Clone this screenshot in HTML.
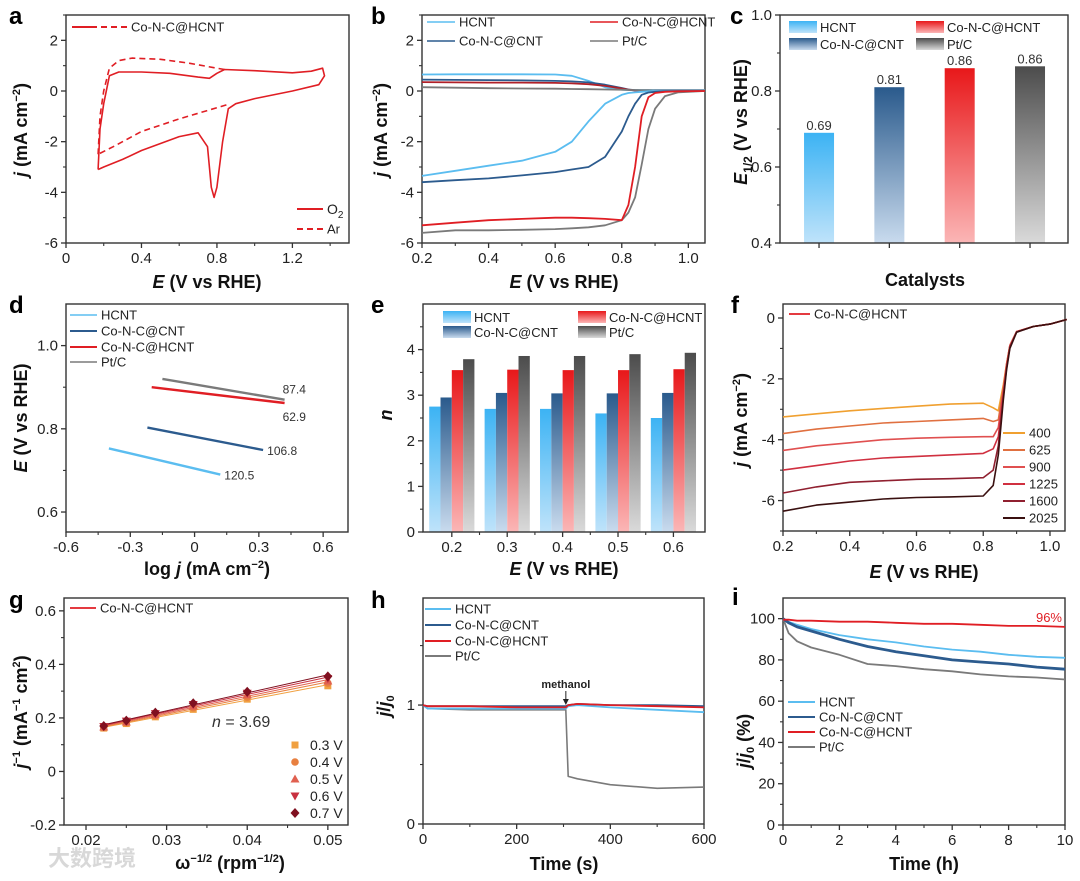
<!DOCTYPE html>
<html><head><meta charset="utf-8">
<style>
html,body{margin:0;padding:0;background:#fff;}
svg{display:block;font-family:"Liberation Sans","Noto Sans CJK SC",sans-serif;}
</style></head>
<body>
<svg id="fig" width="1080" height="881" viewBox="0 0 1080 881" xmlns="http://www.w3.org/2000/svg">
<defs>
<linearGradient id="gH" x1="0" y1="0" x2="0" y2="1"><stop offset="0" stop-color="#3cb3f4"/><stop offset="1" stop-color="#bfe3fa"/></linearGradient>
<linearGradient id="gC" x1="0" y1="0" x2="0" y2="1"><stop offset="0" stop-color="#2a5a8c"/><stop offset="1" stop-color="#c9dbee"/></linearGradient>
<linearGradient id="gR" x1="0" y1="0" x2="0" y2="1"><stop offset="0" stop-color="#e8181a"/><stop offset="1" stop-color="#fbb6b6"/></linearGradient>
<linearGradient id="gP" x1="0" y1="0" x2="0" y2="1"><stop offset="0" stop-color="#4c4c4c"/><stop offset="1" stop-color="#dadada"/></linearGradient>
</defs>
</svg>
<script>
// ---------- DATA ----------
// a: CV
const cvO2E=[0.17,0.18,0.20,0.23,0.28,0.40,0.55,0.70,0.76,0.80,0.84,1.00,1.20,1.30,1.36,1.37,1.34,1.20,1.00,0.90,0.86,0.83,0.80,0.785,0.77,0.75,0.70,0.60,0.40,0.30,0.20,0.17];
const cvO2J=[-3.1,-1.5,-0.5,0.6,0.75,0.75,0.70,0.55,0.50,0.70,0.85,0.80,0.72,0.78,0.90,0.60,0.25,0.0,-0.3,-0.5,-0.7,-2.0,-3.8,-4.2,-3.8,-2.2,-1.65,-1.8,-2.35,-2.7,-3.0,-3.1];
const cvArUpE=[0.17,0.18,0.20,0.23,0.28,0.35,0.50,0.65,0.80,0.84];
const cvArUpJ=[-2.5,-1.0,0.0,0.9,1.2,1.3,1.25,1.1,0.9,0.85];
const cvArLoE=[0.85,0.60,0.40,0.25,0.17];
const cvArLoJ=[-0.55,-1.1,-1.6,-2.2,-2.5];
// b: LSV
const lsvE=[0.2,0.3,0.4,0.5,0.6,0.65,0.7,0.75,0.8,0.82,0.84,0.86,0.88,0.9,0.93,0.97,1.05];
const lsvHCNT=[-3.35,-3.15,-2.95,-2.75,-2.4,-2.0,-1.2,-0.5,-0.15,-0.08,-0.05,-0.03,-0.01,0,0,0,0];
const lsvCNT=[-3.6,-3.52,-3.45,-3.33,-3.2,-3.1,-3.0,-2.6,-1.6,-1.0,-0.5,-0.15,-0.06,-0.03,-0.01,0,0];
const lsvHC=[-5.3,-5.2,-5.1,-5.05,-5.0,-5.0,-5.02,-5.05,-5.1,-4.5,-3.0,-1.0,-0.25,-0.08,-0.03,-0.01,0];
const lsvPt=[-5.6,-5.5,-5.5,-5.48,-5.45,-5.42,-5.38,-5.3,-5.1,-4.8,-4.2,-2.9,-1.5,-0.7,-0.2,-0.05,0];
const capHCNT=[0.65,0.66,0.66,0.66,0.65,0.6,0.4,0.15,0.05,0.04,0.04,0.04,0.04,0.04,0.04,0.04,0.04];
const capCNT=[0.45,0.44,0.43,0.42,0.4,0.38,0.34,0.25,0.12,0.06,0.03,0.02,0.02,0.02,0.02,0.02,0.02];
const capHC=[0.35,0.34,0.33,0.33,0.32,0.3,0.27,0.2,0.1,0.05,0.02,0.01,0.01,0.01,0.01,0.01,0.01];
const capPt=[0.15,0.13,0.11,0.1,0.09,0.08,0.07,0.06,0.05,0.04,0.04,0.03,0.03,0.02,0.02,0.02,0.02];
// c: E1/2
const cats=["HCNT","Co-N-C@CNT","Co-N-C@HCNT","Pt/C"];
const e12=[0.69,0.81,0.86,0.865];
const e12Labels=["0.69","0.81","0.86","0.86"];
// d: Tafel
const tafX0=[-0.40,-0.22,-0.20,-0.15];
const tafY0=[0.753,0.803,0.900,0.920];
const tafX1=[0.12,0.32,0.42,0.42];
const tafY1=[0.690,0.749,0.862,0.870];
const tafLabels=["120.5","106.8","62.9","87.4"];
// e: n
const nPot=[0.2,0.3,0.4,0.5,0.6];
const nHCNT=[2.75,2.70,2.70,2.60,2.50];
const nCNT=[2.95,3.05,3.04,3.04,3.05];
const nHC=[3.55,3.56,3.55,3.55,3.57];
const nPt=[3.79,3.86,3.86,3.90,3.93];
// f: rpm LSV
const rpmE=[0.2,0.3,0.4,0.5,0.6,0.7,0.8,0.83,0.845,0.86,0.87,0.88,0.9,0.95,1.0,1.05];
const rpmLabels=["400","625","900","1225","1600","2025"];
const rpm400=[-3.25,-3.15,-3.05,-2.97,-2.9,-2.83,-2.8,-2.95,-3.05,-2.2,-1.5,-0.9,-0.45,-0.28,-0.2,-0.05];
const rpm625=[-3.8,-3.65,-3.55,-3.45,-3.4,-3.35,-3.3,-3.4,-3.35,-2.3,-1.5,-0.9,-0.45,-0.28,-0.2,-0.05];
const rpm900=[-4.35,-4.2,-4.1,-4.0,-3.95,-3.92,-3.9,-3.9,-3.6,-2.4,-1.55,-0.9,-0.45,-0.28,-0.2,-0.05];
const rpm1225=[-5.0,-4.85,-4.7,-4.6,-4.55,-4.5,-4.45,-4.3,-3.9,-2.5,-1.6,-0.95,-0.45,-0.28,-0.2,-0.05];
const rpm1600=[-5.75,-5.55,-5.4,-5.35,-5.3,-5.28,-5.25,-5.0,-4.2,-2.6,-1.65,-0.95,-0.46,-0.28,-0.2,-0.05];
const rpm2025=[-6.35,-6.15,-6.05,-5.95,-5.9,-5.88,-5.85,-5.5,-4.5,-2.7,-1.7,-1.0,-0.47,-0.28,-0.2,-0.05];
// g: K-L
const klX=[0.0222,0.025,0.0286,0.0333,0.04,0.05];
const klLabels=["0.3 V","0.4 V","0.5 V","0.6 V","0.7 V"];
const kl03=[0.162,0.179,0.204,0.232,0.270,0.320];
const kl04=[0.164,0.182,0.208,0.238,0.278,0.330];
const kl05=[0.166,0.185,0.212,0.244,0.286,0.338];
const kl06=[0.168,0.188,0.216,0.250,0.292,0.347];
const kl07=[0.170,0.190,0.220,0.255,0.298,0.355];
// h: methanol
const mT=[0,10,100,200,300,305,310,330,400,500,600];
const mHCNT=[1,0.97,0.97,0.97,0.97,0.97,0.99,1.0,0.98,0.96,0.94];
const mCNT=[1,0.99,0.99,0.99,0.99,0.99,1.0,1.01,1.0,1.0,0.99];
const mHC=[1,0.99,0.99,0.98,0.98,0.98,1.0,1.01,1.0,0.99,0.98];
const mPt=[1,0.97,0.96,0.96,0.96,0.96,0.40,0.38,0.33,0.30,0.31];
// i: stability
const sT=[0,0.2,0.5,1,2,3,4,5,6,7,8,9,10];
const sHCNT=[100,98.5,97,95,92,90,88.5,86.5,85,84,82.5,81.5,81];
const sCNT=[100,98,96,94,90,86.5,84,82,80,79,78,76.5,75.5];
const sHC=[99.5,99.5,99,99,98.5,98.5,98,97.5,97.5,97,96.5,96.5,96];
const sPt=[100,93,89,86,82.5,78,77,75.5,74.5,73,72,71.5,70.5];

// ---------- HELPERS ----------
const NS="http://www.w3.org/2000/svg";
const svg=document.getElementById('fig');
const cBlue="#5bbdf0",cNavy="#2c5b8e",cRed="#e01e24",cGray="#7a7a7a";
function el(tag,attrs,parent){const e=document.createElementNS(NS,tag);for(const k in attrs)e.setAttribute(k,attrs[k]);(parent||svg).appendChild(e);return e;}
function txt(x,y,s,size,anchor,extra,name){
  const t=el('text',Object.assign({x:x,y:y,'font-size':size,'text-anchor':anchor||'start',fill:'#222'},extra||{}));
  t.textContent=s;
  
  
  return t;
}
function panel(name,l,t,r,b,x0,x1,y0,y1){
  const g=el('g',{});
  
  
  return {g:g,l:l,t:t,r:r,b:b,X:v=>l+(v-x0)/(x1-x0)*(r-l),Y:v=>b-(v-y0)/(y1-y0)*(b-t)};
}
function frame(P){
  const f=el('rect',{x:P.l,y:P.t,width:P.r-P.l,height:P.b-P.t,fill:'none',stroke:'#333','stroke-width':1.4},P.g);
  
  
}
function xAxis(P,maj,labs,minr){
  maj.forEach((v,i)=>{
    const tk=el('line',{x1:P.X(v),x2:P.X(v),y1:P.b,y2:P.b+5,stroke:'#333','stroke-width':1.3},P.g);
    
    
    if(labs&&labs[i]!=null) P.g.appendChild(txt(P.X(v),P.b+20,labs[i],15,'middle',null,'x-tick-label'));
  });
  (minr||[]).forEach(v=>{
    const tk=el('line',{x1:P.X(v),x2:P.X(v),y1:P.b,y2:P.b+3,stroke:'#333','stroke-width':1.1},P.g);
    
    
  });
}
function yAxis(P,maj,labs,minr){
  maj.forEach((v,i)=>{
    const tk=el('line',{x1:P.l-5,x2:P.l,y1:P.Y(v),y2:P.Y(v),stroke:'#333','stroke-width':1.3},P.g);
    
    
    P.g.appendChild(txt(P.l-8,P.Y(v)+5,labs[i],15,'end',null,'y-tick-label'));
  });
  (minr||[]).forEach(v=>{
    const tk=el('line',{x1:P.l-3,x2:P.l,y1:P.Y(v),y2:P.Y(v),stroke:'#333','stroke-width':1.1},P.g);
    
    
  });
}
function curve(P,xs,ys,color,w,name,dash){
  const d=xs.map((x,i)=>(i?'L':'M')+P.X(x).toFixed(1)+','+P.Y(ys[i]).toFixed(1)).join(' ');
  const p=el('path',{d:d,fill:'none',stroke:color,'stroke-width':w,'stroke-linejoin':'round'},P.g);
  if(dash)p.setAttribute('stroke-dasharray',dash);
  
  
  return p;
}
function legLine(g,x1,x2,y,color,label,name,dash,w){
  const l=el('line',{x1:x1,x2:x2,y1:y,y2:y,stroke:color,'stroke-width':w||2},g);
  if(dash)l.setAttribute('stroke-dasharray',dash);
  
  
  if(label)g.appendChild(txt(x2+4,y+4.5,label,13,'start',null,name+'-label'));
}
function legBox(g,x,y,fill,label,name){
  const r=el('rect',{x:x,y:y,width:28,height:12,fill:fill},g);
  
  
  g.appendChild(txt(x+31,y+11,label,13,'start',null,name+'-label'));
}
function titleY(x,y,parts,name){
  const t=el('text',{transform:'translate('+x+','+y+') rotate(-90)','text-anchor':'middle','font-size':18,'font-weight':'bold',fill:'#111'});
  parts.forEach(p=>{const s=el('tspan',p[1]||{},t);s.textContent=p[0];});
  
  
}
function titleX(x,y,parts,name){
  const t=el('text',{x:x,y:y,'text-anchor':'middle','font-size':18,'font-weight':'bold',fill:'#111'});
  parts.forEach(p=>{const s=el('tspan',p[1]||{},t);s.textContent=p[0];});
  
  
}
function letter(x,y,s){svg.appendChild(txt(x,y,s,24,'start',{'font-weight':'bold',fill:'#000'},'panel-label-'+s));}
const I={'font-style':'italic'}, SUP={'font-size':11,dy:-7}, DN={'font-size':11,dy:4};
function jTitle(x,y,name){titleY(x,y,[['j',I],[' (mA cm'],['−2',SUP],[')',{dy:7}]],name);}

// ---------- a ----------
{const P=panel('panel-a-cv',66,15,349,243,0,1.5,-6,3);
frame(P);
xAxis(P,[0,0.4,0.8,1.2],['0','0.4','0.8','1.2'],[0.2,0.6,1.0,1.4]);
yAxis(P,[-6,-4,-2,0,2],['-6','-4','-2','0','2'],[-5,-3,-1,1,3]);
curve(P,cvO2E,cvO2J,cRed,1.6,'cv-o2-curve');
curve(P,cvArUpE,cvArUpJ,cRed,1.6,'cv-ar-upper-curve','6,4');
curve(P,cvArLoE,cvArLoJ,cRed,1.6,'cv-ar-lower-curve','6,4');
legLine(P.g,72,97,27,cRed,null,'legend-a-solid');
legLine(P.g,101,127,27,cRed,'Co-N-C@HCNT','legend-a-sample','6,4');
legLine(P.g,297,323,209,cRed,null,'legend-o2');
const o=txt(327,214,'O',14,'start',null,'legend-o2-label');P.g.appendChild(o);const s=el('tspan',{'font-size':10,dy:4},o);s.textContent='2';
legLine(P.g,297,323,229,cRed,'Ar','legend-ar','6,4');
}
letter(9,24,'a');
jTitle(27,130,'y-axis-title-a');
titleX(207,288,[['E',I],[' (V vs RHE)']],'x-axis-title-a');

// ---------- b ----------
{const P=panel('panel-b-lsv',422,15,705,243,0.2,1.05,-6,3);
frame(P);
xAxis(P,[0.2,0.4,0.6,0.8,1.0],['0.2','0.4','0.6','0.8','1.0'],[0.3,0.5,0.7,0.9]);
yAxis(P,[-6,-4,-2,0,2],['-6','-4','-2','0','2'],[-5,-3,-1,1,3]);
curve(P,lsvE,capHCNT,cBlue,1.8,'cap-hcnt-curve');
curve(P,lsvE,capCNT,cNavy,1.8,'cap-cnt-curve');
curve(P,lsvE,capHC,'#b02028',1.8,'cap-hc-curve');
curve(P,lsvE,capPt,cGray,1.8,'cap-pt-curve');
curve(P,lsvE,lsvHCNT,cBlue,1.8,'lsv-hcnt-curve');
curve(P,lsvE,lsvCNT,cNavy,1.8,'lsv-cnt-curve');
curve(P,lsvE,lsvPt,cGray,1.8,'lsv-pt-curve');
curve(P,lsvE,lsvHC,cRed,1.8,'lsv-hc-curve');
legLine(P.g,427,455,22,cBlue,'HCNT','legend-b-hcnt',null,1.5);
legLine(P.g,427,455,41,cNavy,'Co-N-C@CNT','legend-b-cnt',null,1.5);
legLine(P.g,590,618,22,cRed,'Co-N-C@HCNT','legend-b-hc',null,1.5);
legLine(P.g,590,618,41,cGray,'Pt/C','legend-b-pt',null,1.5);
}
letter(371,24,'b');
jTitle(387,130,'y-axis-title-b');
titleX(564,288,[['E',I],[' (V vs RHE)']],'x-axis-title-b');

// ---------- c ----------
{const P=panel('panel-c-e12',780,15,1068,243,-0.555,3.54,0.4,1.0);
const fills=['url(#gH)','url(#gC)','url(#gR)','url(#gP)'];
e12.forEach((v,i)=>{
  const r=el('rect',{x:P.X(i)-15,y:P.Y(v),width:30,height:P.Y(0.4)-P.Y(v),fill:fills[i]},P.g);
  
  
  P.g.appendChild(txt(P.X(i),P.Y(v)-3,e12Labels[i],13,'middle',{fill:'#333'},'bar-value-label'));
});
frame(P);
xAxis(P,[0,1,2,3],null,[]);
yAxis(P,[0.4,0.6,0.8,1.0],['0.4','0.6','0.8','1.0'],[0.5,0.7,0.9]);
legBox(P.g,789,21,'url(#gH)','HCNT','legend-c-hcnt');
legBox(P.g,789,38,'url(#gC)','Co-N-C@CNT','legend-c-cnt');
legBox(P.g,916,21,'url(#gR)','Co-N-C@HCNT','legend-c-hc');
legBox(P.g,916,38,'url(#gP)','Pt/C','legend-c-pt');
}
svg.appendChild(txt(730,24,'c',24,'start',{'font-weight':'bold',fill:'#000'},'panel-label-c'));
titleY(747,122,[['E',I],['1/2',{'font-size':12,dy:5}],[' (V vs RHE)',{dy:-5}]],'y-axis-title-c');
titleX(925,286,[['Catalysts']],'x-axis-title-c');

// ---------- d ----------
{const P=panel('panel-d-tafel',66,304,348,532,-0.6,0.716,0.552,1.10);
frame(P);
xAxis(P,[-0.6,-0.3,0,0.3,0.6],['-0.6','-0.3','0','0.3','0.6'],[-0.45,-0.15,0.15,0.45]);
yAxis(P,[0.6,0.8,1.0],['0.6','0.8','1.0'],[0.7,0.9]);
const cols=[cBlue,cNavy,cRed,cGray];
tafX0.forEach((x,i)=>{
  curve(P,[x,tafX1[i]],[tafY0[i],tafY1[i]],cols[i],2.4,'tafel-line-'+i);
});
P.g.appendChild(txt(P.X(tafX1[0])+4,P.Y(tafY1[0])+5,tafLabels[0],12,'start',{fill:'#333'},'tafel-slope-label'));
P.g.appendChild(txt(P.X(tafX1[1])+4,P.Y(tafY1[1])+5,tafLabels[1],12,'start',{fill:'#333'},'tafel-slope-label'));
P.g.appendChild(txt(P.X(tafX1[2])-2,P.Y(tafY1[2])+18,tafLabels[2],12,'start',{fill:'#333'},'tafel-slope-label'));
P.g.appendChild(txt(P.X(tafX1[3])-2,P.Y(tafY1[3])-6,tafLabels[3],12,'start',{fill:'#333'},'tafel-slope-label'));
legLine(P.g,70,97,315,cBlue,'HCNT','legend-d-hcnt',null,1.5);
legLine(P.g,70,97,331,cNavy,'Co-N-C@CNT','legend-d-cnt',null,2);
legLine(P.g,70,97,347,cRed,'Co-N-C@HCNT','legend-d-hc',null,2);
legLine(P.g,70,97,362,cGray,'Pt/C','legend-d-pt',null,1.5);
}
letter(9,313,'d');
titleY(27,418,[['E',I],[' (V vs RHE)']],'y-axis-title-d');
titleX(207,575,[['log '],['j',I],[' (mA cm'],['−2',SUP],[')',{dy:7}]],'x-axis-title-d');

// ---------- e ----------
{const P=panel('panel-e-n',423,304,705,532,0.148,0.657,0,5);
const series=[nHCNT,nCNT,nHC,nPt], fills=['url(#gH)','url(#gC)','url(#gR)','url(#gP)'];
nPot.forEach((p,gi)=>{
  series.forEach((s,si)=>{
    const bx=P.X(p)-22.6+si*11.3;
    const r=el('rect',{x:bx,y:P.Y(s[gi]),width:11.3,height:P.Y(0)-P.Y(s[gi]),fill:fills[si]},P.g);
    
    
  });
});
frame(P);
xAxis(P,nPot,['0.2','0.3','0.4','0.5','0.6'],[0.25,0.35,0.45,0.55]);
yAxis(P,[0,1,2,3,4],['0','1','2','3','4'],[0.5,1.5,2.5,3.5,4.5]);
legBox(P.g,443,311,'url(#gH)','HCNT','legend-e-hcnt');
legBox(P.g,443,326,'url(#gC)','Co-N-C@CNT','legend-e-cnt');
legBox(P.g,578,311,'url(#gR)','Co-N-C@HCNT','legend-e-hc');
legBox(P.g,578,326,'url(#gP)','Pt/C','legend-e-pt');
}
letter(371,313,'e');
titleY(392,415,[['n',I]],'y-axis-title-e');
titleX(564,575,[['E',I],[' (V vs RHE)']],'x-axis-title-e');

// ---------- f ----------
{const P=panel('panel-f-rpm',783,304,1065,531,0.2,1.045,-7,0.46);
frame(P);
xAxis(P,[0.2,0.4,0.6,0.8,1.0],['0.2','0.4','0.6','0.8','1.0'],[0.3,0.5,0.7,0.9]);
yAxis(P,[-6,-4,-2,0],['-6','-4','-2','0'],[-7,-5,-3,-1]);
const sets=[rpm400,rpm625,rpm900,rpm1225,rpm1600,rpm2025];
const cols=['#f0a030','#e07040','#e05050','#d03040','#902030','#3a1010'];
sets.forEach((s,i)=>{curve(P,rpmE,s,cols[i],1.6,'rpm-curve-'+rpmLabels[i]);});
legLine(P.g,789,810,314,cRed,'Co-N-C@HCNT','legend-f-sample',null,1.8);
rpmLabels.forEach((lab,i)=>{legLine(P.g,1003,1025,433+i*17,cols[i],lab,'legend-rpm-'+lab,null,2);});
}
svg.appendChild(txt(731,313,'f',24,'start',{'font-weight':'bold',fill:'#000'},'panel-label-f'));
jTitle(747,420,'y-axis-title-f');
titleX(924,578,[['E',I],[' (V vs RHE)']],'x-axis-title-f');

// ---------- g ----------
{const P=panel('panel-g-kl',64,598,348,825,0.01727,0.0525,-0.2,0.648);
frame(P);
xAxis(P,[0.02,0.03,0.04,0.05],['0.02','0.03','0.04','0.05'],[0.025,0.035,0.045]);
yAxis(P,[-0.2,0,0.2,0.4,0.6],['-0.2','0','0.2','0.4','0.6'],[-0.1,0.1,0.3,0.5]);
const sets=[kl03,kl04,kl05,kl06,kl07];
const cols=['#f0a040','#e88040','#e06050','#c83040','#801020'];
sets.forEach((s,i)=>{
  const n=s.length,mx=klX.reduce((a,b)=>a+b)/n,my=s.reduce((a,b)=>a+b)/n;
  let num=0,den=0;klX.forEach((x,k)=>{num+=(x-mx)*(s[k]-my);den+=(x-mx)*(x-mx);});
  const sl=num/den,ic=my-sl*mx;
  curve(P,[klX[0],klX[n-1]],[ic+sl*klX[0],ic+sl*klX[n-1]],cols[i],1,'kl-fit-line-'+i);
});
function marker(i,cx,cy,c){
  let m;
  if(i===0)m=el('rect',{x:cx-3.5,y:cy-3.5,width:7,height:7,fill:c},P.g);
  else if(i===1)m=el('circle',{cx:cx,cy:cy,r:3.8,fill:c},P.g);
  else if(i===2)m=el('polygon',{points:`${cx},${cy-4.5} ${cx+4.5},${cy+3.5} ${cx-4.5},${cy+3.5}`,fill:c},P.g);
  else if(i===3)m=el('polygon',{points:`${cx},${cy+4.5} ${cx+4.5},${cy-3.5} ${cx-4.5},${cy-3.5}`,fill:c},P.g);
  else m=el('polygon',{points:`${cx},${cy-5} ${cx+4.5},${cy} ${cx},${cy+5} ${cx-4.5},${cy}`,fill:c},P.g);
  return m;
}
sets.forEach((s,i)=>{
  s.forEach((v,k)=>{
    const m=marker(i,P.X(klX[k]),P.Y(v),cols[i]);
    
    
  });
  const lm=marker(i,295,745+i*17,cols[i]);
  
  
  P.g.appendChild(txt(310,750+i*17,klLabels[i],14,'start',null,'legend-kl-label'));
});
legLine(P.g,70,96,608,cRed,'Co-N-C@HCNT','legend-g-sample',null,1.8);
const nt=txt(212,727,'',16,'start',{fill:'#333'},'n-value-annotation');P.g.appendChild(nt);
const t1=el('tspan',{'font-style':'italic'},nt);t1.textContent='n';const t2=el('tspan',{},nt);t2.textContent=' = 3.69';
}
letter(9,608,'g');
titleY(27,712,[['j',I],['−1',SUP],[' (mA',{dy:7}],['−1',SUP],[' cm',{dy:7}],['2',SUP],[')',{dy:7}]],'y-axis-title-g');
titleX(230,869,[['ω'],['−1/2',SUP],[' (rpm',{dy:7}],['−1/2',SUP],[')',{dy:7}]],'x-axis-title-g');
svg.appendChild(txt(48,866,'大数跨境',22,'start',{fill:'#d8d8d8','font-weight':'bold'},'watermark'));

// ---------- h ----------
{const P=panel('panel-h-methanol',423,598,704,824,0,600,0,1.9);
frame(P);
xAxis(P,[0,200,400,600],['0','200','400','600'],[100,300,500]);
yAxis(P,[0,1],['0','1'],[0.5,1.5]);
curve(P,mT,mPt,cGray,1.6,'methanol-pt-curve');
curve(P,mT,mHCNT,cBlue,1.8,'methanol-hcnt-curve');
curve(P,mT,mCNT,cNavy,1.8,'methanol-cnt-curve');
curve(P,mT,mHC,cRed,1.8,'methanol-hc-curve');
P.g.appendChild(txt(P.X(305),688,'methanol',11,'middle',{'font-weight':'bold'},'methanol-annotation'));
const a=el('line',{x1:P.X(305),x2:P.X(305),y1:691,y2:700,stroke:'#222','stroke-width':1},P.g);

const ah=el('polygon',{points:`${P.X(305)-3},699 ${P.X(305)+3},699 ${P.X(305)},705`,fill:'#222'},P.g);

legLine(P.g,425,451,609,cBlue,'HCNT','legend-h-hcnt',null,2);
legLine(P.g,425,451,625,cNavy,'Co-N-C@CNT','legend-h-cnt',null,2);
legLine(P.g,425,451,641,cRed,'Co-N-C@HCNT','legend-h-hc',null,2);
legLine(P.g,425,451,656,cGray,'Pt/C','legend-h-pt',null,2);
}
letter(371,608,'h');
titleY(390,706,[['j',I],['/'],['j',I],['0',DN]],'y-axis-title-h');
titleX(564,870,[['Time (s)']],'x-axis-title-h');

// ---------- i ----------
{const P=panel('panel-i-stability',783,598,1065,825,0,10,0,110);
frame(P);
xAxis(P,[0,2,4,6,8,10],['0','2','4','6','8','10'],[1,3,5,7,9]);
yAxis(P,[0,20,40,60,80,100],['0','20','40','60','80','100'],[10,30,50,70,90]);
curve(P,sT,sPt,cGray,1.8,'stability-pt-curve');
curve(P,sT,sHCNT,cBlue,1.8,'stability-hcnt-curve');
curve(P,sT,sCNT,cNavy,2.8,'stability-cnt-curve');
curve(P,sT,sHC,cRed,1.8,'stability-hc-curve');
P.g.appendChild(txt(1062,622,'96%',13,'end',{fill:cRed},'retention-annotation'));
legLine(P.g,788,815,702,cBlue,'HCNT','legend-i-hcnt',null,2);
legLine(P.g,788,815,717,cNavy,'Co-N-C@CNT','legend-i-cnt',null,2);
legLine(P.g,788,815,732,cRed,'Co-N-C@HCNT','legend-i-hc',null,2);
legLine(P.g,788,815,747,cGray,'Pt/C','legend-i-pt',null,2);
}
letter(732,605,'i');
titleY(750,741,[['j',I],['/'],['j',I],['0',DN],[' (%)',{dy:-4}]],'y-axis-title-i');
titleX(924,870,[['Time (h)']],'x-axis-title-i');
</script>
</body></html>
